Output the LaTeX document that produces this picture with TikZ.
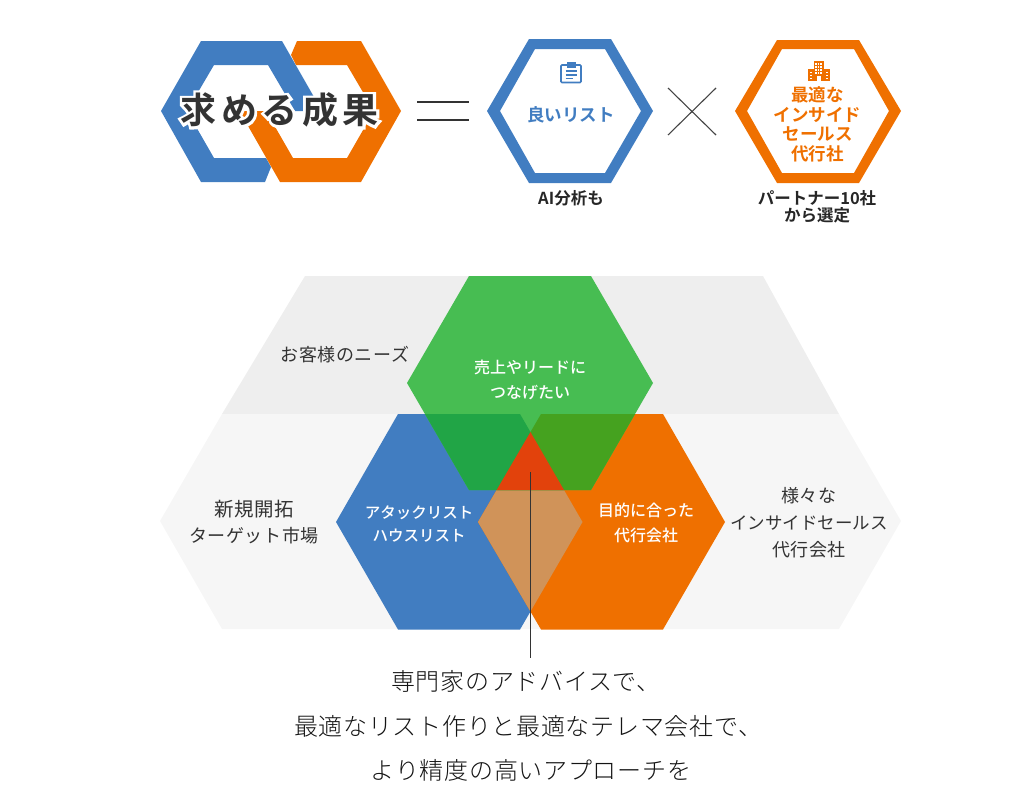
\documentclass[tikz,border=0pt]{standalone}
\usepackage{fontspec}
\setmainfont{Noto Sans CJK JP}[BoldFont={Noto Sans CJK JP Bold}]
\newfontfamily\jpmed{Noto Sans CJK JP Medium}
\newfontfamily\jpls[LetterSpace=3]{Noto Sans CJK JP}
\newfontfamily\jplight[LetterSpace=3]{Noto Sans CJK JP Light}
\newfontfamily\jphalo[FakeBold=15,LetterSpace=12.5]{Noto Sans CJK JP Bold}
\newfontfamily\jpmain[LetterSpace=12.5]{Noto Sans CJK JP Bold}
\definecolor{cblue}{HTML}{417DC1}
\definecolor{corange}{HTML}{EF7000}
\definecolor{cgreen}{HTML}{47BD52}
\definecolor{ctan}{HTML}{D09359}
\definecolor{cgb}{HTML}{21A546}
\definecolor{cgo}{HTML}{45A21F}
\definecolor{cred}{HTML}{E2420C}
\definecolor{cink}{HTML}{333333}
\definecolor{cgrey}{HTML}{444444}
\definecolor{bandA}{HTML}{EEEEEE}
\definecolor{bandB}{HTML}{F6F6F6}
\tikzset{
  x=1pt,y=-1pt,
  lab/.style={font=\fontsize{18}{18}\selectfont\jpls,text=cink,align=center,inner sep=0pt},
  whitelab/.style={font=\fontsize{16}{25}\selectfont\jpmed,text=white,align=center,inner sep=0pt},
  captionlab/.style={font=\fontsize{16.5}{16.5}\selectfont\bfseries,text=black!85,align=center,inner sep=0pt},
  bluelab/.style={font=\fontsize{17.5}{18}\selectfont\bfseries,text=cblue,align=center,inner sep=0pt},
  orangelab/.style={font=\fontsize{17.5}{19.7}\selectfont\bfseries,text=corange,align=center,inner sep=0pt},
  bottomlab/.style={font=\fontsize{24}{24}\selectfont\jplight,text=black!92,inner sep=0pt},
  rule/.style={cink,line width=1.3pt},
}
\newcommand{\hexA}{(336,522) -- (398,414) -- (520,414) -- (582.5,522) -- (520,629.5) -- (398,629.5) -- cycle}
\newcommand{\hexB}{(478,522) -- (541,414) -- (663,414) -- (725,522) -- (663,629.5) -- (541,629.5) -- cycle}
\newcommand{\hexC}{(407,383) -- (469,276) -- (591,276) -- (653,383) -- (591,490) -- (469,490) -- cycle}
\begin{document}
\begin{tikzpicture}
\useasboundingbox (0,0) rectangle (1032,798);
% --- top-left interlocking rings
\fill[cblue] (161,111) -- (201,41) -- (282,41) -- (322,111) -- (295,111) -- (268,65) -- (214,65) -- (187,111) -- (214,158) -- (266,158) -- (271,167) -- (265,182) -- (201,182) -- cycle;
\fill[corange] (239.5,111) -- (266,111) -- (293,158) -- (347,158) -- (374,111) -- (347,65) -- (296,65) -- (291,55) -- (297,41) -- (361,41) -- (401,111) -- (361,182) -- (280,182) -- cycle;
\node[text=white,inner sep=0pt,font=\fontsize{36}{36}\selectfont\jphalo] (goalhalo) at (279.5,110) {求める成果};
\node[text=cink,inner sep=0pt,font=\fontsize{36}{36}\selectfont\jpmain] (goal) at (279.5,110) {求める成果};
% equals
\coordinate (eqa1) at (417,102); \coordinate (eqa2) at (469,102);
\coordinate (eqb1) at (417,120); \coordinate (eqb2) at (469,120);
\draw[rule] (eqa1) -- (eqa2);
\draw[rule] (eqb1) -- (eqb2);
% list hexagon
\fill[cblue,even odd rule] (487,111) -- (529,39) -- (611,39) -- (653,111) -- (611,183) -- (529,183) -- cycle
  (500,111) -- (535,49) -- (605,49) -- (641,111) -- (605,173) -- (535,173) -- cycle;
\node[bluelab] (list) at (571,115) {良いリスト};
\node[captionlab] (ai) at (571,198) {AI分析も};
% clipboard icon
\draw[cblue,line width=1.6pt,rounded corners=1pt] (561,65) rectangle (581,82.5);
\fill[cblue] (566.5,62) rectangle (575.5,67.5);
\draw[cblue,line width=1.6pt] (565.5,71) -- (576.5,71) (565.5,74.7) -- (576.5,74.7) (565.5,78.3) -- (572.5,78.3);
% cross
\coordinate (xa) at (668,88); \coordinate (xb) at (716,135);
\coordinate (xc) at (716,88); \coordinate (xd) at (668,135);
\draw[cgrey,line width=1.1pt] (xa) -- (xb);
\draw[cgrey,line width=1.1pt] (xc) -- (xd);
% agency hexagon
\fill[corange,even odd rule] (735,111) -- (777,40) -- (859,40) -- (901,111) -- (859,183) -- (777,183) -- cycle
  (747,111) -- (782,49) -- (854,49) -- (889,111) -- (854,173) -- (782,173) -- cycle;
\node[orangelab] (agency) at (817.5,124.5) {最適な\\インサイド\\セールス\\代行社};
\node[captionlab] (partner) at (817,207) {パートナー10社\\から選定};
% building icon
\fill[corange] (813.5,61) rectangle (823.5,81);
\fill[corange] (807.5,69) rectangle (829.5,81);
\foreach \py in {63,66,69,72}{\foreach \px in {814.8,817.6,820.4}{\fill[white] (\px,\py) rectangle +(1.8,1.8);}}
\foreach \py in {71.5,74.5,77.5}{\foreach \px in {809.5,825.5}{\fill[white] (\px,\py) rectangle +(2,1.8);}}
\fill[white] (817,76) rectangle (820.5,81);
% --- bands
\fill[bandA] (305,276) -- (763,276) -- (839,414) -- (222,414) -- cycle;
\fill[bandB] (222,414) -- (839,414) -- (901,521) -- (839,629) -- (222,629) -- (160,521) -- cycle;
% --- venn
\fill[cblue] \hexA;
\fill[corange] \hexB;
\begin{scope}\clip \hexA; \fill[ctan] \hexB; \end{scope}
\fill[cgreen] \hexC;
\begin{scope}\clip \hexC; \fill[cgb] \hexA; \fill[cgo] \hexB;
  \begin{scope}\clip \hexA; \fill[cred] \hexB; \end{scope}
\end{scope}
\node[lab] (needs) at (345,355) {お客様のニーズ};
\node[lab] (market) at (254,522) {{\fontsize{19.5}{18}\selectfont 新規開拓}\\[8pt]ターゲット市場};
\node[lab] (others) at (809,523) {様々な\\[9pt]{\fontsize{17.5}{18}\selectfont\normalfont インサイドセールス}\\[9pt]代行会社};
\node[whitelab] (sales) at (530,379.5) {売上やリードに\\つなげたい};
\node[whitelab,font=\fontsize{15.5}{23}\selectfont\jpmed] (attack) at (419,523.5) {アタックリスト\\ハウスリスト};
\node[whitelab] (fit) at (646,522.5) {目的に合った\\代行会社};
% --- leader and caption
\coordinate (leadtop) at (530.5,472);
\coordinate (leadend) at (530.5,658);
\draw[cink,line width=1.8pt] (leadtop) -- (leadend);
\node[bottomlab] (c1) at (526,681) {専門家のアドバイスで、};
\node[bottomlab] (c2) at (528,726) {最適なリスト作りと最適なテレマ会社で、};
\node[bottomlab] (c3) at (531,770) {より精度の高いアプローチを};
\end{tikzpicture}
\end{document}
